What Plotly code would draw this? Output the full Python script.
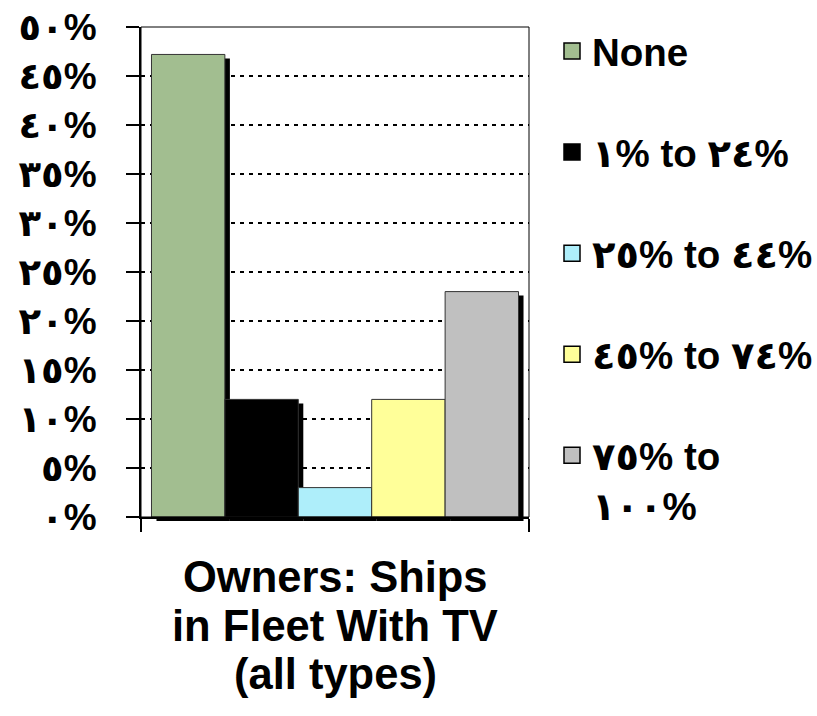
import plotly.graph_objects as go

# ---- data ----
series_names = ["None", "١% to ٢٤%", "٢٥% to ٤٤%", "٤٥% to ٧٤%", "٧٥% to<br>١٠٠%"]
series_values = [47.2, 12.0, 3.0, 12.0, 23.0]
series_colors = ["#A2BE90", "#000000", "#AEEEFA", "#FFFF99", "#C0C0C0"]
category = ["Owners: Ships in Fleet With TV (all types)"]
tick_values = [0, 5, 10, 15, 20, 25, 30, 35, 40, 45, 50]
tick_labels = ["٠%", "٥%", "١٠%", "١٥%", "٢٠%", "٢٥%", "٣٠%", "٣٥%", "٤٠%", "٤٥%", "٥٠%"]
title_lines = ["Owners: Ships", "in Fleet With TV", "(all types)"]

# ---- geometry (pixels) ----
W, H = 817, 716
L, T = 141, 26.5
PW, PH = 388, 490.2          # visible plot area
SX, SY = 5, 4                # shadow offset
R = W - L - PW - SX
B = H - T - PH - SY
TW, TH = PW + SX, PH + SY
FONT = "Liberation Sans, Arial, DejaVu Sans, sans-serif"

fig = go.Figure()

# shadows (drawn first, on a shifted subplot)
for name, val in zip(series_names, series_values):
    fig.add_trace(go.Bar(x=category, y=[val], name=name, marker=dict(color="#000000", line=dict(width=0)),
                         xaxis="x", yaxis="y", showlegend=False, hoverinfo="skip"))

# real bars
for name, val, col in zip(series_names, series_values, series_colors):
    fig.add_trace(go.Bar(x=category, y=[val], name=name,
                         marker=dict(color=col, line=dict(color="#333333", width=1)),
                         xaxis="x2", yaxis="y2", showlegend=False))

# legend entries
for i, (name, col) in enumerate(zip(series_names, series_colors)):
    fig.add_trace(go.Scatter(x=[None], y=[None], mode="markers", name=name, legendgroup=f"g{i}",
                             marker=dict(symbol="square", size=25, color=col, line=dict(color="#000000", width=1.5)),
                             xaxis="x2", yaxis="y2", showlegend=True))

fig.update_layout(
    width=W, height=H,
    margin=dict(l=L, r=R, t=T, b=B, autoexpand=False),
    paper_bgcolor="white", plot_bgcolor="rgba(0,0,0,0)",
    barmode="group", bargap=0.054, bargroupgap=0,
    font=dict(family=FONT, color="#000000"),
    xaxis=dict(domain=[SX / TW, 1], type="category", range=[-0.5, 0.5], visible=False, fixedrange=True),
    yaxis=dict(domain=[0, 1 - SY / TH], range=[0, 50], visible=False, fixedrange=True),
    xaxis2=dict(domain=[0, PW / TW], anchor="y2", type="category", range=[-0.5, 0.5],
                showticklabels=False, ticks="outside", ticklen=13, tickwidth=1.5, tickcolor="#000000",
                tickson="boundaries", showline=True, linecolor="#000000", linewidth=2,
                showgrid=False, zeroline=False),
    yaxis2=dict(domain=[SY / TH, 1], anchor="x2", range=[0, 50],
                tickvals=tick_values, ticktext=tick_labels,
                tickfont=dict(size=37, family=FONT, weight="bold", color="#000000"),
                ticks="outside", ticklen=13, tickwidth=1.5, tickcolor="#000000",
                ticklabelstandoff=22,
                showline=True, linecolor="#000000", linewidth=2,
                showgrid=True, gridcolor="#000000", gridwidth=2, griddash="4px,5px",
                zeroline=False),
    legend=dict(x=(552 - L) / TW, y=(H - B - 19) / TH, xanchor="left", yanchor="top",
                font=dict(size=38.5, family=FONT, weight="bold", color="#000000"),
                tracegroupgap=48, valign="top", bgcolor="rgba(0,0,0,0)", traceorder="grouped",
                maxheight=700),
    showlegend=True,
    shapes=[dict(type="rect", xref="x2 domain", yref="y2 domain", x0=0, x1=1, y0=0, y1=1,
                 line=dict(color="#000000", width=1), layer="above")],
)

centers = [577, 626, 674]
for line, cy in zip(title_lines, centers):
    fig.add_annotation(text=line, xref="x2 domain", x=0.5, yref="paper", y=(H - B - cy) / TH,
                       xanchor="center", yanchor="middle", showarrow=False,
                       font=dict(size=43.5, family=FONT, weight="bold", color="#000000"))

fig.write_html("out.html", config={"displayModeBar": False},
               post_script="document.body.style.margin='0px';")
